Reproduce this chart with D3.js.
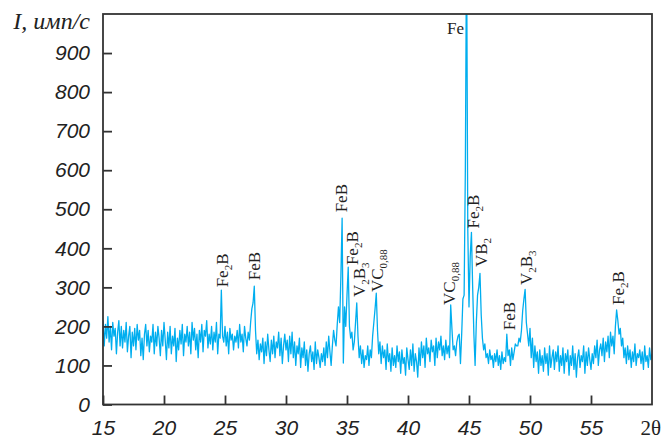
<!DOCTYPE html>
<html>
<head>
<meta charset="utf-8">
<script src="https://cdn.jsdelivr.net/npm/d3@7"></script>
<style>
  body { margin: 0; background: #fff; }
  svg { display: block; }
</style>
</head>
<body>
<script>
// diffraction pattern, 2theta from 15 to 60 with a 0.1 deg step
var thetaStart = 15, thetaStep = 0.1;
var counts = [
  215,150,205,170,225,160,200,140,210,175,   // 15
  195,130,185,215,150,200,145,190,160,210,   // 16
  135,175,200,120,185,150,195,140,205,165,   // 17
  190,125,170,115,180,205,150,190,135,175,   // 18
  160,205,130,185,150,200,170,125,190,150,   // 19
  210,165,115,185,145,200,130,175,150,195,   // 20
  110,170,140,190,155,205,125,180,160,200,   // 21
  150,185,130,210,165,195,140,180,120,190,   // 22
  160,205,135,190,175,215,145,180,155,200,   // 23
  140,185,160,210,130,180,170,293,175,160,   // 24
  200,150,185,130,195,165,180,140,175,160,   // 25
  190,145,205,160,180,135,200,170,150,185,   // 26
  165,210,245,260,303,190,130,165,115,155,   // 27
  135,170,105,160,125,180,140,110,165,130,   // 28
  175,120,160,145,185,125,170,105,150,180,   // 29
  140,165,110,175,130,185,120,160,100,150,   // 30
  130,170,95,145,120,160,100,140,85,130,     // 31
  150,110,135,90,160,105,140,120,95,130,     // 32
  110,145,100,160,120,175,135,100,150,190,   // 33
  165,150,205,250,210,330,477,106,250,200,   // 34
  280,352,200,170,185,140,160,210,260,175,   // 35
  120,150,105,140,95,125,115,150,100,140,    // 36
  120,175,210,245,285,190,130,160,105,150,   // 37
  120,140,90,155,110,130,85,145,100,125,     // 38
  95,150,110,135,80,140,105,120,75,145,      // 39
  115,90,140,100,155,85,130,110,70,145,      // 40
  100,160,120,150,95,170,130,145,110,165,    // 41
  135,150,100,170,120,160,140,175,125,150,   // 42
  115,165,130,150,120,255,195,140,150,125,   // 43
  160,175,180,105,180,270,280,600,1200,450,  // 44
  250,380,441,300,180,100,210,280,300,336,   // 45
  230,170,140,155,120,130,105,140,115,125,   // 46
  95,130,110,140,100,125,90,135,105,120,     // 47
  110,180,125,140,100,145,115,135,155,150,   // 48
  150,170,160,190,240,270,295,210,180,150,   // 49
  195,120,170,95,150,110,135,80,140,100,     // 50
  125,85,145,105,130,75,150,95,120,140,      // 51
  90,135,110,150,85,125,100,145,80,130,      // 52
  110,140,75,125,100,150,90,130,70,120,      // 53
  140,95,125,110,150,80,135,100,145,115,     // 54
  90,130,105,150,120,165,100,140,155,125,    // 55
  170,110,160,135,175,120,185,150,175,130,   // 56
  200,242,215,180,195,150,170,120,145,105,   // 57
  150,115,140,95,135,110,155,100,130,120,    // 58
  140,105,135,90,150,110,125,95,145,115,     // 59
  130                                        // 60
];

var xTicks = [15, 20, 25, 30, 35, 40, 45, 50, 55];
var yTicks = [0, 100, 200, 300, 400, 500, 600, 700, 800, 900];

// phase labels: main text, subscript(s), position of label foot (2theta, counts)
var labelMain = [["Fe","B"], ["FeB"], ["FeB"], ["Fe","B"], ["V","B",""], ["VC"], ["VC"], ["Fe","B"], ["VB"], ["FeB"], ["V","B",""], ["Fe","B"]];
var labelSubs = [["2"], [], [], ["2"], ["2","3"], ["0,88"], ["0,88"], ["2"], ["2"], [], ["2","3"], ["2"]];
var labelTheta = [24.75, 27.42, 34.55, 35.45, 36.0, 37.5, 43.4, 45.4, 46.0, 48.3, 49.7, 57.25];
var labelFoot  = [300, 318, 492, 357, 275, 288, 255, 451, 352, 190, 306, 255];

var W = 664, H = 437;
var padL = 103, padR = 652, padT = 14, padB = 404.5;

var x = d3.scaleLinear().domain([15, 60]).range([padL, padR]);
var y = d3.scaleLinear().domain([0, 1000]).range([padB, padT]);

var svg = d3.select('body').append('svg').attr('width', W).attr('height', H);

svg.append('clipPath').attr('id', 'plotclip')
  .append('rect').attr('x', padL).attr('y', padT).attr('width', padR - padL).attr('height', padB - padT);

var line = d3.line()
  .x((d, i) => x(thetaStart + i * thetaStep))
  .y(d => y(d));

svg.append('path').datum(counts)
  .attr('clip-path', 'url(#plotclip)')
  .attr('d', line)
  .attr('fill', 'none').attr('stroke', '#00aeef').attr('stroke-width', 1.3)
  .attr('stroke-linejoin', 'round');

// axes - ticks point inside the frame
var numFont = '"Liberation Sans", Arial, sans-serif';
var xAxis = d3.axisBottom(x).tickValues(xTicks).tickSizeInner(-9).tickSizeOuter(0);
var yAxis = d3.axisLeft(y).tickValues(yTicks).tickSizeInner(-9).tickSizeOuter(0);

var gx = svg.append('g').attr('transform', 'translate(0,' + padB + ')').call(xAxis);
var gy = svg.append('g').attr('transform', 'translate(' + padL + ',0)').call(yAxis);
[gx, gy].forEach(function(g) {
  g.select('.domain').remove();
  g.selectAll('line').attr('stroke', '#333').attr('stroke-width', 1.8);
  g.selectAll('text').attr('font-family', numFont).attr('font-style', 'italic')
    .attr('font-size', 21).attr('fill', '#222');
});
gx.selectAll('text').attr('dy', 0).attr('y', 30);
gy.selectAll('text').attr('x', -13);

// frame
svg.append('rect').attr('x', padL).attr('y', padT).attr('width', padR - padL).attr('height', padB - padT)
  .attr('fill', 'none').attr('stroke', '#333').attr('stroke-width', 1.8);

// axis titles
var serif = '"Liberation Serif", "Times New Roman", serif';
svg.append('text').attr('x', W - 3).attr('y', padB + 30)
  .attr('text-anchor', 'end').attr('font-family', serif)
  .attr('font-size', 21).attr('fill', '#222').text('2θ');

svg.append('text').attr('x', 90).attr('y', 29)
  .attr('text-anchor', 'end').attr('font-family', serif)
  .attr('font-style', 'italic').attr('font-size', 24).attr('fill', '#222').text('I, имп/с');

// phase labels
var fs = 17, subFs = 11;
labelMain.forEach(function(parts, k) {
  var ax = x(labelTheta[k]) + fs * 0.33, ay = y(labelFoot[k]);
  var t = svg.append('text')
    .attr('transform', 'translate(' + ax + ',' + ay + ') rotate(-90)')
    .attr('font-family', serif).attr('font-size', fs).attr('fill', '#222');
  var subs = labelSubs[k];
  if (parts.length === 1) {
    t.append('tspan').text(parts[0]);
    if (subs.length) t.append('tspan').attr('font-size', subFs).attr('dy', 4).text(subs[0]);
  } else {
    parts.forEach(function(p, j) {
      if (p !== '') t.append('tspan').attr('dy', j > 0 ? -4 : 0).text(p);
      if (j < subs.length) t.append('tspan').attr('font-size', subFs).attr('dy', 4).text(subs[j]);
    });
  }
});

// the main iron line
svg.append('text').attr('x', x(44.6)).attr('y', y(950))
  .attr('text-anchor', 'end').attr('font-family', serif).attr('font-size', fs).attr('fill', '#222').text('Fe');
</script>
</body>
</html>
